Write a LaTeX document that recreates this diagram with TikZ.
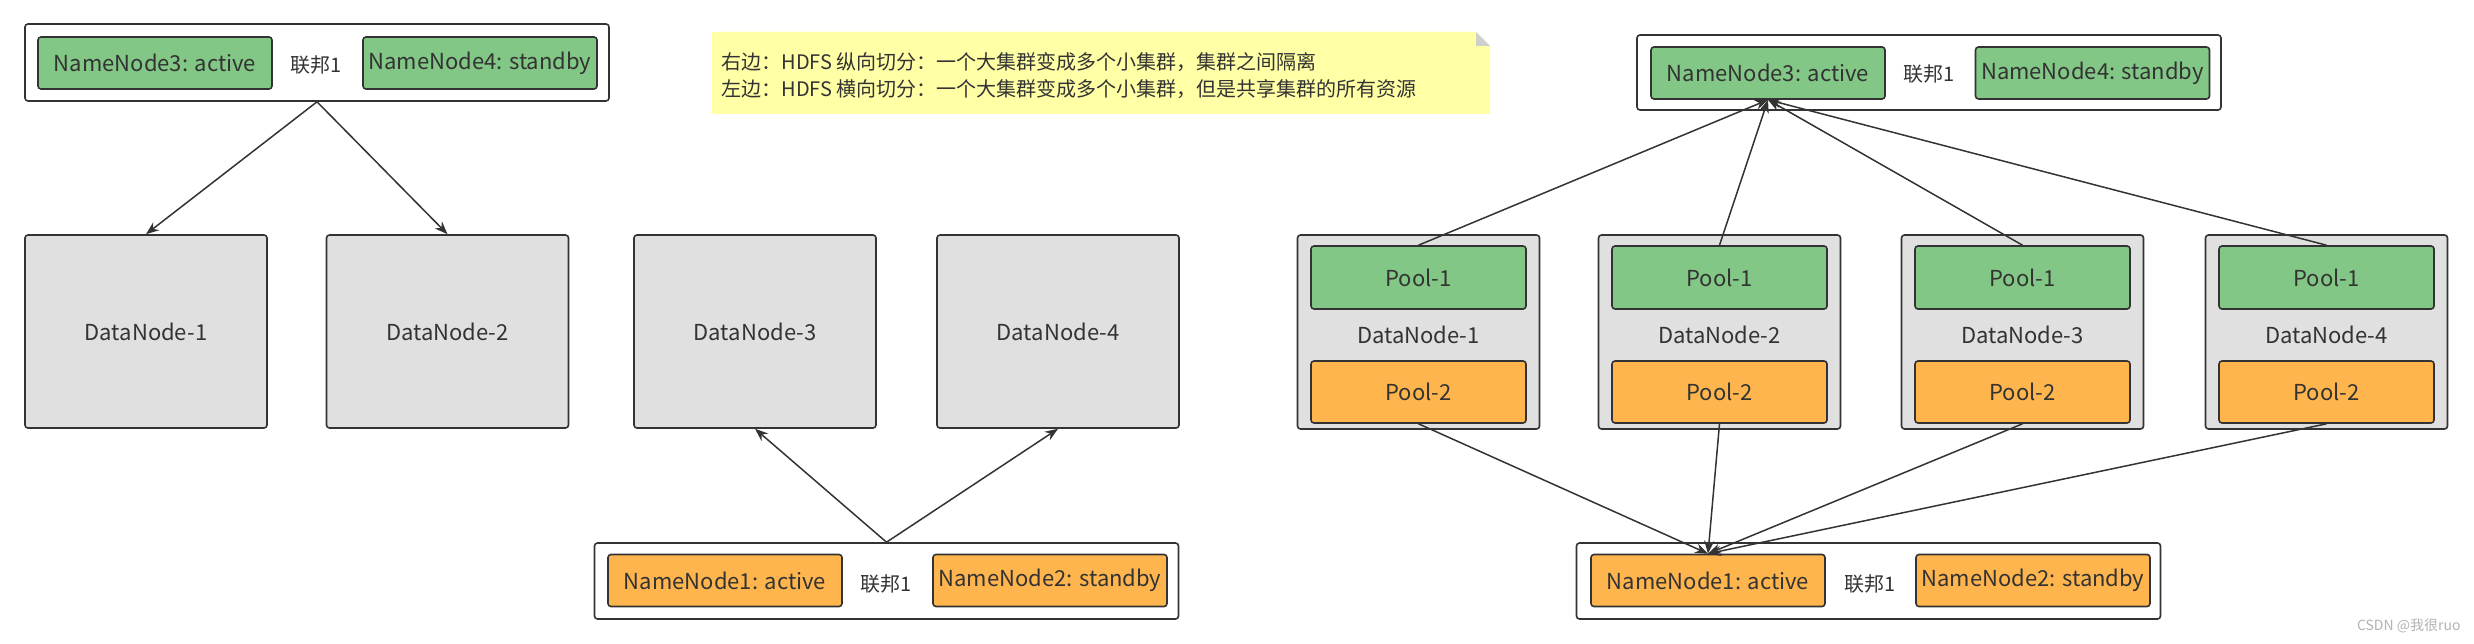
\documentclass[tikz,border=0pt]{standalone}
\usepackage{fontspec}
\setmainfont{Noto Sans CJK SC}
\usepackage{xcolor}
\usepackage{tikz}
\usetikzlibrary{arrows.meta}
\definecolor{nngreen}{HTML}{82C785}
\definecolor{nnorange}{HTML}{FFB54D}
\definecolor{dngray}{HTML}{E0E0E0}
\definecolor{notey}{HTML}{FFFFA6}
\definecolor{foldgray}{HTML}{CFCFCF}
\definecolor{ink}{HTML}{333333}
\tikzset{
  fed/.style={draw=ink, line width=1.6pt, fill=white, rounded corners=3pt,
    minimum width=584pt, minimum height=77pt},
  nnbox/.style={draw=ink, line width=1.6pt, rounded corners=3pt, text=ink,
    font=\fontsize{22}{26}\selectfont, minimum width=234pt, minimum height=52pt},
  greenbox/.style={nnbox, fill=nngreen},
  orangebox/.style={nnbox, fill=nnorange},
  dnbox/.style={draw=ink, line width=1.6pt, rounded corners=3pt, fill=dngray,
    text=ink, font=\fontsize{22}{26}\selectfont, minimum width=242pt, minimum height=193pt},
  fedlabel/.style={text=ink, font=\fontsize{20}{24}\selectfont},
  link/.style={draw=ink, line width=1.5pt, -{Stealth[length=13pt,width=10pt]}}
}

\begin{document}
\begin{tikzpicture}[x=1pt,y=-1pt]
  \useasboundingbox (0,0) rectangle (2474,644);

  \node[fed] (topL) at (317,62.5) {};
  \node[greenbox] (nn3L) at (155,63) {NameNode3: active};
  \node[fedlabel] (fedTL) at (316,65) {联邦1};
  \node[greenbox] (nn4L) at (480,63) {NameNode4: standby};

  \node[dnbox] (dn1L) at (146,331.5) {DataNode-1};
  \node[dnbox] (dn2L) at (447.5,331.5) {DataNode-2};
  \node[dnbox] (dn3L) at (755,331.5) {DataNode-3};
  \node[dnbox] (dn4L) at (1058,331.5) {DataNode-4};

  \node[fed, minimum height=76pt] (botL) at (886.5,581) {};
  \node[orangebox] (nn1L) at (725,580.5) {NameNode1: active};
  \node[fedlabel] (fedBL) at (886,584) {联邦1};
  \node[orangebox] (nn2L) at (1050,580.5) {NameNode2: standby};

  \path[link] (topL.south) -- (dn1L.north);
  \path[link] (topL.south) -- (dn2L.north);
  \path[link] (botL.north) -- (dn3L.south);
  \path[link] (botL.north) -- (dn4L.south);

  \fill[notey] (712,32) -- (1476,32) -- (1490,46) -- (1490,114) -- (712,114) -- cycle;
  \fill[foldgray] (1476,32) -- (1490,46) -- (1476,46) -- cycle;
  \node[anchor=west, align=left, text=ink, font=\fontsize{20}{27}\selectfont] (note) at (718,76)
    {右边：HDFS 纵向切分：一个大集群变成多个小集群，集群之间隔离\\
     左边：HDFS 横向切分：一个大集群变成多个小集群，但是共享集群的所有资源};

  \node[fed, minimum height=75pt] (topR) at (1929,72.5) {};
  \node[greenbox] (nn3R) at (1768,73) {NameNode3: active};
  \node[fedlabel] (fedTR) at (1929,74) {联邦1};
  \node[greenbox] (nn4R) at (2092.5,73) {NameNode4: standby};

  \node[dnbox, minimum height=194pt] (dn1R) at (1418.5,332) {};
  \node[dnbox, minimum height=194pt] (dn2R) at (1719.5,332) {};
  \node[dnbox, minimum height=194pt] (dn3R) at (2022.5,332) {};
  \node[dnbox, minimum height=194pt] (dn4R) at (2326.5,332) {};
  \node[fedlabel, font=\fontsize{22}{26}\selectfont] (lab1R) at (1418.5,335) {DataNode-1};
  \node[fedlabel, font=\fontsize{22}{26}\selectfont] (lab2R) at (1719.5,335) {DataNode-2};
  \node[fedlabel, font=\fontsize{22}{26}\selectfont] (lab3R) at (2022.5,335) {DataNode-3};
  \node[fedlabel, font=\fontsize{22}{26}\selectfont] (lab4R) at (2326.5,335) {DataNode-4};

  \node[greenbox, minimum width=215pt, minimum height=63pt] (p11) at (1418.5,277.5) {Pool-1};
  \node[greenbox, minimum width=215pt, minimum height=63pt] (p21) at (1719.5,277.5) {Pool-1};
  \node[greenbox, minimum width=215pt, minimum height=63pt] (p31) at (2022.5,277.5) {Pool-1};
  \node[greenbox, minimum width=215pt, minimum height=63pt] (p41) at (2326.5,277.5) {Pool-1};
  \node[orangebox, minimum width=215pt, minimum height=62pt] (p12) at (1418.5,392) {Pool-2};
  \node[orangebox, minimum width=215pt, minimum height=62pt] (p22) at (1719.5,392) {Pool-2};
  \node[orangebox, minimum width=215pt, minimum height=62pt] (p32) at (2022.5,392) {Pool-2};
  \node[orangebox, minimum width=215pt, minimum height=62pt] (p42) at (2326.5,392) {Pool-2};

  \node[fed, minimum height=76pt] (botR) at (1868.5,581) {};
  \node[orangebox] (nn1R) at (1708,580.5) {NameNode1: active};
  \node[fedlabel] (fedBR) at (1870,584) {联邦1};
  \node[orangebox] (nn2R) at (2033,580.5) {NameNode2: standby};

  \path[link] (p11.north) -- (nn3R.south);
  \path[link] (p21.north) -- (nn3R.south);
  \path[link] (p31.north) -- (nn3R.south);
  \path[link] (p41.north) -- (nn3R.south);
  \path[link] (p12.south) -- (nn1R.north);
  \path[link] (p22.south) -- (nn1R.north);
  \path[link] (p32.south) -- (nn1R.north);
  \path[link] (p42.south) -- (nn1R.north);

  \node[text=gray!60, font=\fontsize{14}{16}\selectfont, anchor=east] (mark) at (2464,626) {CSDN @我很ruo};
\end{tikzpicture}
\end{document}
